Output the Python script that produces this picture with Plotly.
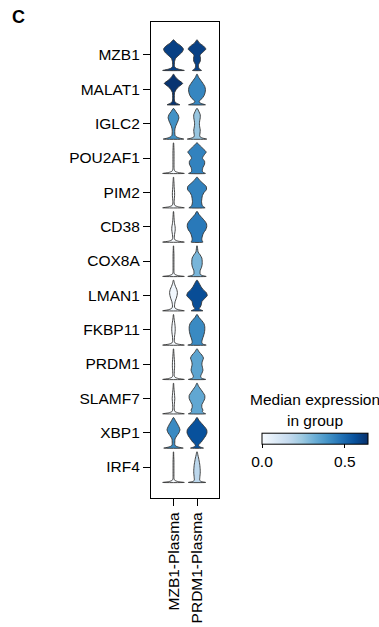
import numpy as np
import plotly.graph_objects as go

# ---------------- data ----------------
genes = ["MZB1", "MALAT1", "IGLC2", "POU2AF1", "PIM2", "CD38", "COX8A",
         "LMAN1", "FKBP11", "PRDM1", "SLAMF7", "XBP1", "IRF4"]
groups = ["MZB1-Plasma", "PRDM1-Plasma"]

# median expression per gene (rows) and group (columns)
median_mzb1_plasma = [0.60, 0.63, 0.40, 0.0, 0.0, 0.0, 0.0, 0.02, 0.0, 0.0, 0.0, 0.42, 0.0]
median_prdm1_plasma = [0.60, 0.43, 0.25, 0.44, 0.44, 0.46, 0.30, 0.57, 0.42, 0.35, 0.34, 0.56, 0.18]

# relative expression levels (0 = zero expression, 1 = row max) at which
# the density profiles below are sampled
levels = [0, .03, .07, .12, .2, .3, .4, .5, .6, .7, .8, .9, 1.0]

# density profile (relative half-width) of each violin, one list per gene
density_mzb1_plasma = {
    "MZB1":    [1.0, 0.6, 0.25, 0.1, 0.08, 0.1, 0.2, 0.5, 0.8, 0.92, 0.7, 0.3, 0.03],
    "MALAT1":  [0.6, 0.4, 0.2, 0.1, 0.08, 0.08, 0.1, 0.25, 0.5, 0.85, 0.5, 0.2, 0.02],
    "IGLC2":   [0.95, 0.6, 0.3, 0.15, 0.12, 0.12, 0.18, 0.3, 0.42, 0.5, 0.42, 0.22, 0.03],
    "POU2AF1": [1.0, 0.45, 0.15, 0.07, 0.05, 0.05, 0.05, 0.05, 0.05, 0.05, 0.04, 0.03, 0.01],
    "PIM2":    [1.0, 0.45, 0.15, 0.07, 0.06, 0.08, 0.1, 0.1, 0.08, 0.06, 0.05, 0.03, 0.01],
    "CD38":    [1.0, 0.45, 0.15, 0.08, 0.08, 0.12, 0.16, 0.15, 0.1, 0.07, 0.05, 0.03, 0.01],
    "COX8A":   [1.0, 0.4, 0.12, 0.05, 0.04, 0.04, 0.04, 0.04, 0.04, 0.04, 0.03, 0.02, 0.01],
    "LMAN1":   [1.0, 0.5, 0.2, 0.1, 0.1, 0.15, 0.25, 0.33, 0.36, 0.3, 0.18, 0.08, 0.02],
    "FKBP11":  [1.0, 0.45, 0.15, 0.08, 0.08, 0.1, 0.14, 0.16, 0.15, 0.12, 0.08, 0.04, 0.01],
    "PRDM1":   [1.0, 0.45, 0.15, 0.07, 0.07, 0.08, 0.1, 0.1, 0.09, 0.07, 0.05, 0.03, 0.01],
    "SLAMF7":  [1.0, 0.45, 0.15, 0.08, 0.07, 0.08, 0.1, 0.12, 0.1, 0.08, 0.05, 0.03, 0.01],
    "XBP1":    [0.9, 0.5, 0.2, 0.12, 0.12, 0.14, 0.3, 0.5, 0.6, 0.5, 0.35, 0.18, 0.02],
    "IRF4":    [1.0, 0.4, 0.12, 0.05, 0.04, 0.04, 0.04, 0.04, 0.04, 0.04, 0.03, 0.02, 0.01],
}
density_prdm1_plasma = {
    "MZB1":    [0.42, 0.3, 0.18, 0.14, 0.15, 0.3, 0.32, 0.28, 0.55, 0.82, 0.6, 0.22, 0.02],
    "MALAT1":  [0.78, 0.5, 0.25, 0.2, 0.45, 0.65, 0.75, 0.78, 0.72, 0.55, 0.35, 0.15, 0.02],
    "IGLC2":   [0.9, 0.55, 0.3, 0.25, 0.28, 0.3, 0.25, 0.22, 0.25, 0.3, 0.3, 0.18, 0.03],
    "POU2AF1": [0.78, 0.6, 0.5, 0.5, 0.55, 0.7, 0.7, 0.5, 0.65, 0.85, 0.6, 0.3, 0.03],
    "PIM2":    [0.75, 0.6, 0.5, 0.45, 0.42, 0.45, 0.5, 0.65, 0.88, 0.85, 0.55, 0.25, 0.03],
    "CD38":    [0.55, 0.5, 0.45, 0.45, 0.5, 0.6, 0.8, 0.9, 0.88, 0.7, 0.45, 0.2, 0.03],
    "COX8A":   [0.85, 0.5, 0.3, 0.28, 0.3, 0.42, 0.48, 0.48, 0.45, 0.3, 0.1, 0.06, 0.02],
    "LMAN1":   [0.55, 0.35, 0.2, 0.3, 0.4, 0.45, 0.7, 0.95, 0.85, 0.55, 0.35, 0.2, 0.03],
    "FKBP11":  [0.85, 0.55, 0.45, 0.45, 0.5, 0.6, 0.68, 0.72, 0.72, 0.65, 0.45, 0.2, 0.02],
    "PRDM1":   [0.8, 0.5, 0.35, 0.35, 0.45, 0.55, 0.5, 0.45, 0.5, 0.6, 0.45, 0.2, 0.02],
    "SLAMF7":  [0.8, 0.6, 0.5, 0.55, 0.45, 0.45, 0.6, 0.72, 0.72, 0.55, 0.35, 0.15, 0.02],
    "XBP1":    [0.6, 0.35, 0.15, 0.18, 0.4, 0.6, 0.8, 0.92, 0.9, 0.7, 0.45, 0.2, 0.02],
    "IRF4":    [0.8, 0.4, 0.25, 0.25, 0.27, 0.3, 0.3, 0.28, 0.25, 0.2, 0.15, 0.08, 0.02],
}

colorbar_ticks = [0.0, 0.5]
colorbar_ticktext = ["0.0", "0.5"]

# ---------------- styling ----------------
VMAX = 0.64
BLUES = ["#f7fbff", "#deebf7", "#c6dbef", "#9ecae1", "#6baed6",
         "#4292c6", "#2171b5", "#08519c", "#08306b"]
colorscale = [[i / (len(BLUES) - 1), c] for i, c in enumerate(BLUES)]
FONT = "Liberation Sans, Arial, sans-serif"
FS = 15.5
HALF_W = 0.46     # max half width (in column units)
BASE_OFF = 0.45   # base of violin below row center
TOP_OFF = 0.44    # top of violin above row center


def hex2rgb(h):
    h = h.lstrip("#")
    return np.array([int(h[i:i + 2], 16) for i in (0, 2, 4)], dtype=float)


def value_color(v):
    t = min(max(v / VMAX, 0.0), 1.0) * (len(BLUES) - 1)
    i = int(np.floor(t))
    if i >= len(BLUES) - 1:
        c = hex2rgb(BLUES[-1])
    else:
        f = t - i
        c = hex2rgb(BLUES[i]) * (1 - f) + hex2rgb(BLUES[i + 1]) * f
    return "rgb(%d,%d,%d)" % tuple(np.round(c))


fig = go.Figure()

medians = [median_mzb1_plasma, median_prdm1_plasma]
densities = [density_mzb1_plasma, density_prdm1_plasma]
lv = np.array(levels)

for gi, gene in enumerate(genes):
    center = -gi
    base = center - BASE_OFF
    height = BASE_OFF + TOP_OFF
    for ci in range(len(groups)):
        hw = np.array(densities[ci][gene]) * HALF_W
        ys = base + lv * height
        xs_right = ci + hw
        xs_left = ci - hw[::-1]
        x = np.concatenate([xs_right, xs_left, [xs_right[0]]])
        y = np.concatenate([ys, ys[::-1], [ys[0]]])
        fig.add_trace(go.Scatter(
            x=x, y=y, mode="lines", fill="toself",
            fillcolor=value_color(medians[ci][gi]),
            line=dict(color="#333333", width=0.9, shape="spline", smoothing=0.6),
            hoverinfo="skip", showlegend=False))

# colorbar carrier
allmed = median_mzb1_plasma + median_prdm1_plasma
fig.add_trace(go.Scatter(
    x=[0] * len(allmed), y=[0] * len(allmed), mode="markers",
    marker=dict(size=1, opacity=0, color=allmed, cmin=0, cmax=VMAX,
                colorscale=colorscale, showscale=True,
                colorbar=dict(orientation="h", xref="paper", yref="paper",
                              x=2.412, xanchor="center",
                              y=0.0956, yanchor="middle",
                              len=106, lenmode="pixels",
                              thickness=11, thicknessmode="pixels",
                              outlinewidth=1, outlinecolor="black",
                              tickvals=colorbar_ticks, ticktext=colorbar_ticktext,
                              ticks="outside", ticklen=4, tickcolor="black",
                              tickfont=dict(family=FONT, size=FS, color="black"),
                              xpad=0, ypad=0, borderwidth=0)),
    hoverinfo="skip", showlegend=False))

fig.update_layout(
    width=379, height=627, autosize=False,
    margin=dict(l=151, r=160, t=22, b=129, autoexpand=False),
    paper_bgcolor="white", plot_bgcolor="white",
    font=dict(family=FONT, size=FS, color="black"),
    xaxis=dict(range=[-0.957, 1.936], tickvals=[0, 1], ticktext=groups,
               tickangle=-90, ticks="outside", ticklen=7, tickcolor="black",
               showline=True, linecolor="black", linewidth=1.2, mirror=True,
               showgrid=False, zeroline=False, fixedrange=True),
    yaxis=dict(range=[-12.903, 0.961], tickvals=[-i for i in range(len(genes))],
               ticktext=genes, ticks="outside", ticklen=7, tickcolor="black",
               showline=True, linecolor="black", linewidth=1.2, mirror=True,
               showgrid=False, zeroline=False, fixedrange=True),
    annotations=[
        dict(text="<b>C</b>", xref="paper", yref="paper", x=-2.07, y=1.036,
             xanchor="left", yanchor="top", showarrow=False,
             font=dict(family=FONT, size=18, color="black")),
        dict(text="Median expression", xref="paper", yref="paper", x=2.412, y=0.2059,
             xanchor="center", yanchor="middle", showarrow=False,
             font=dict(family=FONT, size=FS, color="black")),
        dict(text="in group", xref="paper", yref="paper", x=2.412, y=0.1618,
             xanchor="center", yanchor="middle", showarrow=False,
             font=dict(family=FONT, size=FS, color="black")),
    ],
)

fig.write_html("out.html", config={"displayModeBar": False},
               post_script="document.body.style.margin='0';document.body.style.overflow='hidden';")
